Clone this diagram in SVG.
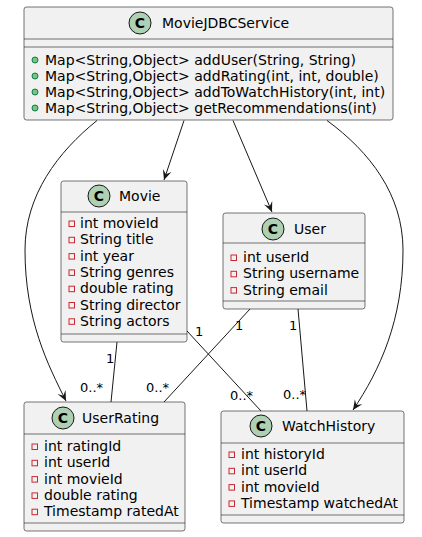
<svg xmlns="http://www.w3.org/2000/svg" width="422" height="537" viewBox="0 0 422 537">
<style>
text{font-family:"DejaVu Sans","Liberation Sans",sans-serif;font-size:14px;fill:#000}
.t{font-size:14px}
.m{font-size:13px}
.box{fill:#F1F1F1;stroke:#181818;stroke-width:0.6}
.sep{stroke:#181818;stroke-width:0.6}
.circ{fill:#ADD1B2;stroke:#181818;stroke-width:1}
.cl{font-weight:bold;font-size:14px;text-anchor:middle}
.priv{fill:none;stroke:#C82930;stroke-width:1}
.pub{fill:#84BE84;stroke:#038048;stroke-width:1}
.edge{fill:none;stroke:#181818;stroke-width:1}
</style>
<defs>
<marker id="ah" markerUnits="userSpaceOnUse" markerWidth="14" markerHeight="12" viewBox="-11 -6 12 12" refX="0" refY="0" orient="auto">
<path d="M0,0 L-10,-4.5 L-6,0 L-10,4.5 Z" fill="#181818"/>
</marker>
</defs>
<g id="connectors">
<path class="edge" marker-end="url(#ah)" d="M97,120.5 C58,152 25,195 25,250 C25,320 48,365 66,401"/>
<path class="edge" marker-end="url(#ah)" d="M184,120.5 L164,180"/>
<path class="edge" marker-end="url(#ah)" d="M233,120.5 L272,212"/>
<path class="edge" marker-end="url(#ah)" d="M327,120.5 C370,152 403,195 403,250 C403,320 380,370 353,410"/>
<path class="edge" d="M117,342 L111,402"/>
<path class="edge" d="M187,331 L261,411"/>
<path class="edge" d="M250,309 L164,402"/>
<path class="edge" d="M298,309 L307,411"/>
<text class="m" x="106" y="363">1</text>
<text class="m" x="80" y="392">0..*</text>
<text class="m" x="195" y="336">1</text>
<text class="m" x="230" y="400">0..*</text>
<text class="m" x="235" y="330">1</text>
<text class="m" x="146" y="392">0..*</text>
<text class="m" x="289" y="330">1</text>
<text class="m" x="283" y="399">0..*</text>
</g>
<g id="MovieJDBCService">
<rect class="box" x="24" y="7" width="369" height="113" rx="2.5"/>
<line class="sep" x1="24" y1="39" x2="393" y2="39"/>
<line class="sep" x1="24" y1="47" x2="393" y2="47"/>
<circle class="circ" cx="140" cy="23" r="11"/>
<text class="cl" x="140" y="28">C</text>
<text class="t" x="162" y="28">MovieJDBCService</text>
<circle class="pub" cx="35" cy="60" r="3"/>
<circle class="pub" cx="35" cy="76" r="3"/>
<circle class="pub" cx="35" cy="92" r="3"/>
<circle class="pub" cx="35" cy="108" r="3"/>
<text x="45" y="65">Map&lt;String,Object&gt; addUser(String, String)</text>
<text x="45" y="81">Map&lt;String,Object&gt; addRating(int, int, double)</text>
<text x="45" y="97">Map&lt;String,Object&gt; addToWatchHistory(int, int)</text>
<text x="45" y="113">Map&lt;String,Object&gt; getRecommendations(int)</text>
</g>
<g id="Movie">
<rect class="box" x="61" y="181" width="126" height="161" rx="2.5"/>
<line class="sep" x1="61" y1="212" x2="187" y2="212"/>
<line class="sep" x1="61" y1="334" x2="187" y2="334"/>
<circle class="circ" cx="99" cy="196" r="11"/>
<text class="cl" x="99" y="201">C</text>
<text class="t" x="119" y="201">Movie</text>
<rect class="priv" x="69" y="221" width="5.5" height="5.5"/>
<rect class="priv" x="69" y="237.3" width="5.5" height="5.5"/>
<rect class="priv" x="69" y="253.6" width="5.5" height="5.5"/>
<rect class="priv" x="69" y="269.9" width="5.5" height="5.5"/>
<rect class="priv" x="69" y="286.2" width="5.5" height="5.5"/>
<rect class="priv" x="69" y="302.5" width="5.5" height="5.5"/>
<rect class="priv" x="69" y="318.8" width="5.5" height="5.5"/>
<text x="80" y="228">int movieId</text>
<text x="80" y="244.3">String title</text>
<text x="80" y="260.6">int year</text>
<text x="80" y="276.9">String genres</text>
<text x="80" y="293.2">double rating</text>
<text x="80" y="309.5">String director</text>
<text x="80" y="325.8">String actors</text>
</g>
<g id="User">
<rect class="box" x="223" y="213" width="142" height="96" rx="2.5"/>
<line class="sep" x1="223" y1="243" x2="365" y2="243"/>
<line class="sep" x1="223" y1="301" x2="365" y2="301"/>
<circle class="circ" cx="273" cy="229" r="11"/>
<text class="cl" x="273" y="234">C</text>
<text class="t" x="294" y="234">User</text>
<rect class="priv" x="231" y="255" width="5.5" height="5.5"/>
<rect class="priv" x="231" y="271.3" width="5.5" height="5.5"/>
<rect class="priv" x="231" y="287.6" width="5.5" height="5.5"/>
<text x="243" y="262">int userId</text>
<text x="243" y="278.3">String username</text>
<text x="243" y="294.6">String email</text>
</g>
<g id="UserRating">
<rect class="box" x="24" y="402" width="161" height="129" rx="2.5"/>
<line class="sep" x1="24" y1="434" x2="185" y2="434"/>
<line class="sep" x1="24" y1="523" x2="185" y2="523"/>
<circle class="circ" cx="63" cy="418" r="11"/>
<text class="cl" x="63" y="423">C</text>
<text class="t" x="82" y="423">UserRating</text>
<rect class="priv" x="32" y="444" width="5.5" height="5.5"/>
<rect class="priv" x="32" y="460.3" width="5.5" height="5.5"/>
<rect class="priv" x="32" y="476.6" width="5.5" height="5.5"/>
<rect class="priv" x="32" y="492.9" width="5.5" height="5.5"/>
<rect class="priv" x="32" y="509.2" width="5.5" height="5.5"/>
<text x="44" y="451">int ratingId</text>
<text x="44" y="467.3">int userId</text>
<text x="44" y="483.6">int movieId</text>
<text x="44" y="499.9">double rating</text>
<text x="44" y="516.2">Timestamp ratedAt</text>
</g>
<g id="WatchHistory">
<rect class="box" x="221" y="411" width="183" height="112" rx="2.5"/>
<line class="sep" x1="221" y1="443" x2="404" y2="443"/>
<line class="sep" x1="221" y1="515" x2="404" y2="515"/>
<circle class="circ" cx="261" cy="426" r="11"/>
<text class="cl" x="261" y="431">C</text>
<text class="t" x="282" y="431">WatchHistory</text>
<rect class="priv" x="229" y="452" width="5.5" height="5.5"/>
<rect class="priv" x="229" y="468.3" width="5.5" height="5.5"/>
<rect class="priv" x="229" y="484.6" width="5.5" height="5.5"/>
<rect class="priv" x="229" y="500.9" width="5.5" height="5.5"/>
<text x="241" y="459">int historyId</text>
<text x="241" y="475.3">int userId</text>
<text x="241" y="491.6">int movieId</text>
<text x="241" y="507.9">Timestamp watchedAt</text>
</g>
</svg>
